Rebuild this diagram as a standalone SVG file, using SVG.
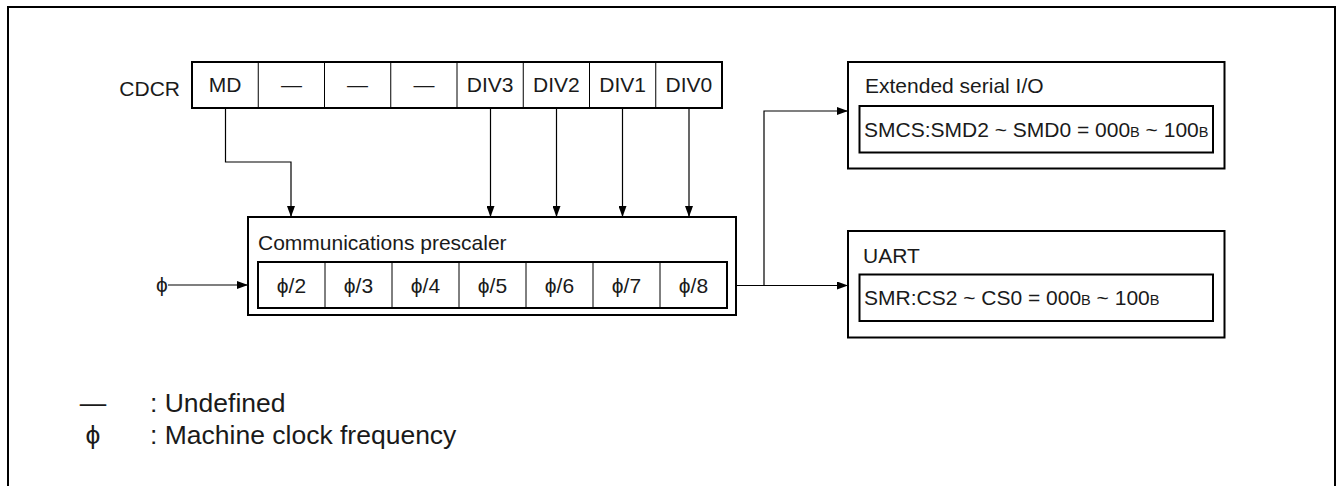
<svg xmlns="http://www.w3.org/2000/svg" width="1336" height="486" viewBox="0 0 1336 486">
<defs>
<marker id="ah" markerWidth="11" markerHeight="8" refX="11" refY="4" orient="auto" markerUnits="userSpaceOnUse">
<path d="M0,0 L11,4 L0,8 Z" fill="#000"/>
</marker>
<style>
text{font-family:"Liberation Sans","DejaVu Sans",Arial,sans-serif;fill:#1a1a1a;font-size:21px}
.c{text-anchor:middle}
.lg{font-size:26.5px}
.thick{fill:#fff;stroke:#000;stroke-width:2}
.thin{stroke:#000;stroke-width:1;fill:none}
.conn{stroke:#000;stroke-width:1.2;fill:none}
.arr{marker-end:url(#ah)}
.sub{font-size:14.5px}
</style>
</defs>
<rect width="1336" height="486" fill="#fff"/>
<path d="M8,490 V7 H1335 V490" fill="none" stroke="#000" stroke-width="2"/>

<g id="cdcr">
<text x="180" y="96" text-anchor="end">CDCR</text>
<rect class="thick" x="192" y="62" width="530" height="46"/>
<path class="thin" d="M258.25,62V108M324.5,62V108M390.75,62V108M457,62V108M523.25,62V108M589.5,62V108M655.75,62V108"/>
<text class="c" x="225.1" y="92">MD</text>
<text class="c" x="291.4" y="92">—</text>
<text class="c" x="357.6" y="92">—</text>
<text class="c" x="423.9" y="92">—</text>
<text class="c" x="490.1" y="92">DIV3</text>
<text class="c" x="556.4" y="92">DIV2</text>
<text class="c" x="622.6" y="92">DIV1</text>
<text class="c" x="688.9" y="92">DIV0</text>
</g>

<g id="prescaler">
<rect class="thick" x="248" y="217" width="488" height="98"/>
<text x="258" y="250">Communications prescaler</text>
<rect class="thick" x="258" y="262" width="469" height="46"/>
<path class="thin" d="M325,262V308M392,262V308M459,262V308M526,262V308M593,262V308M660,262V308"/>
<text class="c" x="291.5" y="293">ϕ/2</text>
<text class="c" x="358.5" y="293">ϕ/3</text>
<text class="c" x="425.5" y="293">ϕ/4</text>
<text class="c" x="492.5" y="293">ϕ/5</text>
<text class="c" x="559.5" y="293">ϕ/6</text>
<text class="c" x="626.5" y="293">ϕ/7</text>
<text class="c" x="693.5" y="293">ϕ/8</text>
</g>

<g id="phi-input">
<text x="156" y="292">ϕ</text>
</g>

<g id="esio">
<rect class="thick" x="848" y="62" width="376.5" height="106.5"/>
<text x="865" y="93">Extended serial I/O</text>
<rect class="thick" x="859.5" y="106" width="353.5" height="46.5"/>
<text x="864" y="136.5">SMCS:SMD2 ~ SMD0 = 000<tspan class="sub">B</tspan> ~ 100<tspan class="sub">B</tspan></text>
</g>

<g id="uart">
<rect class="thick" x="848" y="231" width="376.5" height="106.5"/>
<text x="863" y="263">UART</text>
<rect class="thick" x="859.5" y="274.5" width="353.5" height="46.5"/>
<text x="864" y="305">SMR:CS2 ~ CS0 = 000<tspan class="sub">B</tspan> ~ 100<tspan class="sub">B</tspan></text>
</g>

<g id="connectors">
<path class="conn arr" d="M225.5,108 V162 H291 V217"/>
<path class="conn arr" d="M490.5,108 V217"/>
<path class="conn arr" d="M556.5,108 V217"/>
<path class="conn arr" d="M622.5,108 V217"/>
<path class="conn arr" d="M689,108 V217"/>
<path class="conn arr" d="M168,285 H248"/>
<path class="conn arr" d="M736,285.5 H848"/>
<path class="conn arr" d="M764,285.5 V111 H848"/>
</g>

<g id="legend">
<text class="lg c" x="93" y="412">—</text>
<text class="lg" x="150" y="412">: Undefined</text>
<text class="lg c" x="93" y="444">ϕ</text>
<text class="lg" x="150" y="444">: Machine clock frequency</text>
</g>
</svg>
